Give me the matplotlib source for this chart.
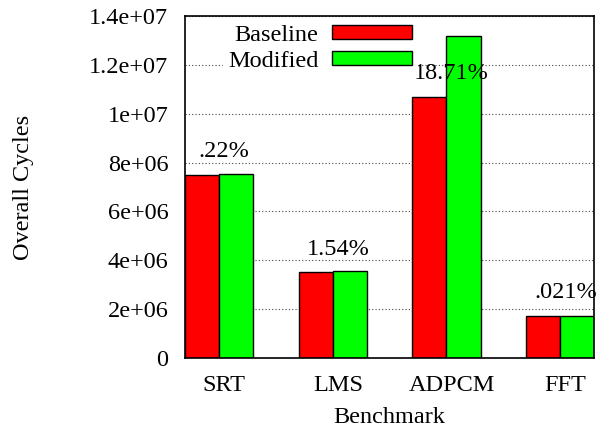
import matplotlib
matplotlib.use('Agg')
import matplotlib.pyplot as plt
from matplotlib.ticker import FuncFormatter, MultipleLocator
import numpy as np

# datos
benchmarks = ['SRT', 'LMS', 'ADPCM', 'FFT']
baseline = [7.49e6, 3.51e6, 10.70e6, 1.72e6]
modified = [7.53e6, 3.56e6, 13.18e6, 1.72e6]
porcentajes = ['.22%', '1.54%', '18.71%', '.021%']

plt.rcParams['font.family'] = ['Liberation Serif', 'DejaVu Serif']
plt.rcParams['font.size'] = 17.5

fig = plt.figure(figsize=(5.97, 4.34), dpi=100)
ax = fig.add_axes([185/597, 1-358/434, 409.3/597, 342/434])

x = np.arange(len(benchmarks))
w = 0.3
ax.bar(x - w/2, baseline, w, color='#ff0000', edgecolor='black', linewidth=1, label='Baseline')
ax.bar(x + w/2, modified, w, color='#00ff00', edgecolor='black', linewidth=1, label='Modified')

# etiquetas de porcentaje sobre las barras
for xi, b, p in zip(x, baseline, porcentajes):
    ax.text(xi + 0.045, b + 0.95e6, p, ha='center', va='center')

ax.set_xlim(-0.3, 3.3)
ax.set_ylim(0, 1.4e7)
ax.yaxis.set_major_locator(MultipleLocator(2e6))
ax.yaxis.set_major_formatter(FuncFormatter(lambda v, pos: '%g' % v))
ax.set_xticks(x + 0.045)
ax.set_xticklabels(benchmarks)
ax.tick_params(axis='both', length=0)
ax.tick_params(axis='x', pad=12)
ax.tick_params(axis='y', pad=12)

ax.set_axisbelow(True)
ax.grid(axis='y', linestyle=(0, (1, 2)), color='#444444', linewidth=0.8)
for s in ax.spines.values():
    s.set_linewidth(1.2)

ax.set_xlabel('Benchmark', labelpad=8)
fig.text(24/597, 1-187/434, 'Overall Cycles', rotation=90, ha='center', va='center')

leg = ax.legend(loc='upper right', bbox_to_anchor=((417-185)/409.3, (358-20)/342),
                markerfirst=False, frameon=True, fancybox=False, edgecolor='white',
                facecolor='white', framealpha=1, borderaxespad=0, borderpad=0.2,
                handlelength=3.3, handleheight=0.5, handletextpad=0.55, labelspacing=0.2)

plt.savefig('out.png', dpi=100)
